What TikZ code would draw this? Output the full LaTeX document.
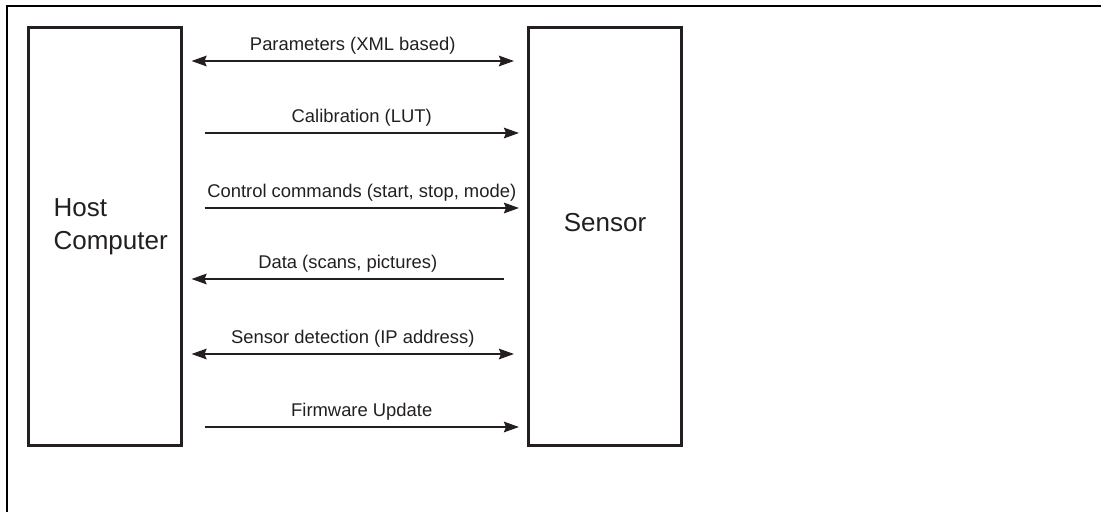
\documentclass[tikz,border=0pt]{standalone}
\usepackage{fontspec}
\setmainfont{Liberation Sans}
\usepackage{xcolor}
\usetikzlibrary{arrows.meta,positioning,calc}
\definecolor{ink}{HTML}{231F20}
\tikzset{
  unit/.style={draw=ink,line width=3pt,minimum width=153pt,minimum height=418pt,inner sep=0pt},
  link/.style={draw=ink,line width=2.2pt},
  lbl/.style={anchor=base,yshift=11pt,text=ink,font=\fontsize{18.4}{22}\selectfont},
}
\begin{document}
\begin{tikzpicture}[x=1pt,y=-1pt,>={Stealth[length=15pt,width=10.5pt,inset=2pt]}]
\useasboundingbox (0,0) rectangle (1101,512);
%% frame
\draw[line width=2pt] (1101,6) -- (7,6) -- (7,512);
%% units
\node[unit] (host) at (104.5,236) {};
\node[unit] (sensor) at (605,236) {};
\node[anchor=west,align=left,text=ink,font=\fontsize{26}{33}\selectfont] (hosttxt) at (50,227) {Host\\Computer};
\node[text=ink,font=\fontsize{26}{33}\selectfont] (sensortxt) at (605,223) {Sensor};
%% links
\draw[link,<->] ([xshift=9pt]host.east |- 0,61) -- node[lbl] (lpar) {Parameters (XML based)} ([xshift=-13pt]sensor.west |- 0,61);
\draw[link,->] ([xshift=22pt]host.east |- 0,133) -- node[lbl] (lcal) {Calibration (LUT)} ([xshift=-8pt]sensor.west |- 0,133);
\draw[link,->] ([xshift=22pt]host.east |- 0,208) -- node[lbl] (lctl) {Control commands (start, stop, mode)} ([xshift=-8pt]sensor.west |- 0,208);
\draw[link,<-] ([xshift=9pt]host.east |- 0,279) -- node[lbl] (ldat) {Data (scans, pictures)} ([xshift=-23pt]sensor.west |- 0,279);
\draw[link,<->] ([xshift=9pt]host.east |- 0,354) -- node[lbl] (ldet) {Sensor detection (IP address)} ([xshift=-13pt]sensor.west |- 0,354);
\draw[link,->] ([xshift=22pt]host.east |- 0,427) -- node[lbl] (lfw) {Firmware Update} ([xshift=-8pt]sensor.west |- 0,427);
\end{tikzpicture}
\end{document}
